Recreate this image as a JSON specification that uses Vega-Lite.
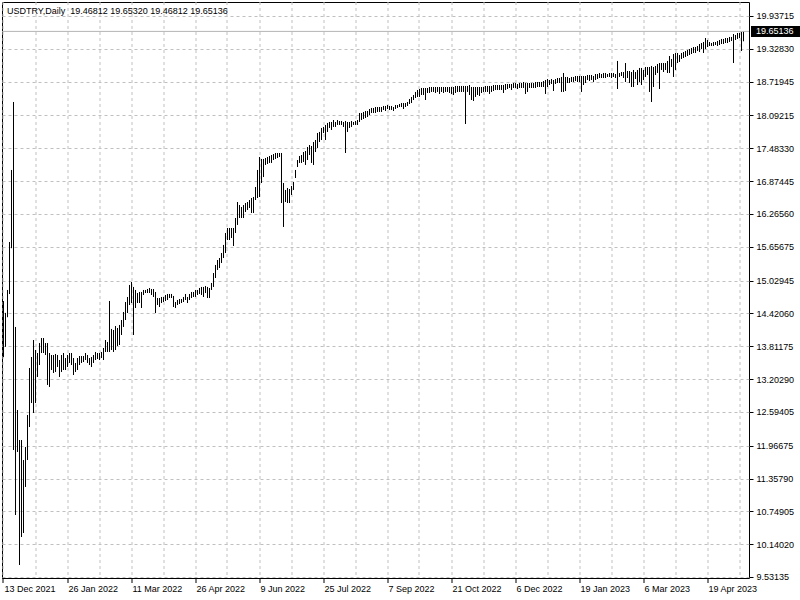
{
"$schema": "https://vega.github.io/schema/vega-lite/v6.json",
"width": 747, "height": 576,
"autosize": {"type": "none"},
"padding": {"left": 2, "top": 2, "right": 51, "bottom": 22},
"background": "white",
"config": {"view": {"stroke": "black", "strokeWidth": 1}, "font": "Liberation Sans", "axis": {"labelOverlap": false, "labelFlush": false}},
"layer": [
{"data": {"values": [
{"i":0,"h":14.65,"l":13.61},{"i":1,"h":14.43,"l":13.80},{"i":2,"h":14.855,"l":14.35},{"i":3,"h":15.745,"l":14.78},{"i":4,"h":17.081,"l":15.63},{"i":5,"h":18.342,"l":11.887},{"i":6,"h":14.169,"l":10.681},{"i":7,"h":12.629,"l":11.85},{"i":8,"h":12.072,"l":9.754},{"i":9,"h":12.072,"l":10.273},
{"i":10,"h":11.701,"l":10.347},{"i":11,"h":11.943,"l":11.201},{"i":12,"h":12.536,"l":11.701},{"i":13,"h":13.408,"l":12.313},{"i":14,"h":13.612,"l":12.758},{"i":15,"h":13.927,"l":12.573},{"i":16,"h":13.742,"l":12.758},{"i":17,"h":13.686,"l":13.241},{"i":18,"h":13.871,"l":13.463},{"i":19,"h":13.964,"l":13.686},
{"i":20,"h":13.964,"l":13.686},{"i":21,"h":13.871,"l":13.649},{"i":22,"h":13.871,"l":13.093},{"i":23,"h":13.686,"l":13.056},{"i":24,"h":13.649,"l":13.371},{"i":25,"h":13.649,"l":13.315},{"i":26,"h":13.668,"l":13.334},{"i":27,"h":13.649,"l":13.427},{"i":28,"h":13.556,"l":13.241},{"i":29,"h":13.649,"l":13.334},
{"i":30,"h":13.686,"l":13.371},{"i":31,"h":13.593,"l":13.371},{"i":32,"h":13.649,"l":13.427},{"i":33,"h":13.686,"l":13.501},{"i":34,"h":13.686,"l":13.463},{"i":35,"h":13.593,"l":13.278},{"i":36,"h":13.501,"l":13.334},{"i":37,"h":13.593,"l":13.371},{"i":38,"h":13.63,"l":13.463},{"i":39,"h":13.63,"l":13.501},
{"i":40,"h":13.63,"l":13.519},{"i":41,"h":13.686,"l":13.556},{"i":42,"h":13.649,"l":13.501},{"i":43,"h":13.593,"l":13.463},{"i":44,"h":13.612,"l":13.427},{"i":45,"h":13.649,"l":13.501},{"i":46,"h":13.705,"l":13.556},{"i":47,"h":13.686,"l":13.575},{"i":48,"h":13.686,"l":13.556},{"i":49,"h":13.705,"l":13.593},
{"i":50,"h":13.779,"l":13.556},{"i":51,"h":13.927,"l":13.705},{"i":52,"h":13.89,"l":13.705},{"i":53,"h":14.651,"l":13.705},{"i":54,"h":14.132,"l":13.742},{"i":55,"h":14.113,"l":13.705},{"i":56,"h":14.187,"l":13.742},{"i":57,"h":14.15,"l":13.816},{"i":58,"h":14.206,"l":13.834},{"i":59,"h":14.298,"l":14.02},
{"i":60,"h":14.447,"l":14.169},{"i":61,"h":14.632,"l":14.298},{"i":62,"h":14.725,"l":14.428},{"i":63,"h":14.948,"l":14.576},{"i":64,"h":15.003,"l":14.613},{"i":65,"h":14.911,"l":14.02},{"i":66,"h":14.855,"l":14.521},{"i":67,"h":14.799,"l":14.613},{"i":68,"h":14.818,"l":14.613},{"i":69,"h":14.818,"l":14.521},
{"i":70,"h":14.855,"l":14.762},{"i":71,"h":14.855,"l":14.799},{"i":72,"h":14.873,"l":14.799},{"i":73,"h":14.892,"l":14.799},{"i":74,"h":14.873,"l":14.762},{"i":75,"h":14.873,"l":14.725},{"i":76,"h":14.818,"l":14.428},{"i":77,"h":14.706,"l":14.576},{"i":78,"h":14.706,"l":14.539},{"i":79,"h":14.725,"l":14.613},
{"i":80,"h":14.725,"l":14.632},{"i":81,"h":14.762,"l":14.651},{"i":82,"h":14.781,"l":14.669},{"i":83,"h":14.781,"l":14.706},{"i":84,"h":14.781,"l":14.706},{"i":85,"h":14.744,"l":14.539},{"i":86,"h":14.632,"l":14.521},{"i":87,"h":14.669,"l":14.576},{"i":88,"h":14.688,"l":14.595},{"i":89,"h":14.688,"l":14.613},
{"i":90,"h":14.725,"l":14.632},{"i":91,"h":14.781,"l":14.669},{"i":92,"h":14.725,"l":14.613},{"i":93,"h":14.781,"l":14.669},{"i":94,"h":14.818,"l":14.706},{"i":95,"h":14.818,"l":14.725},{"i":96,"h":14.855,"l":14.725},{"i":97,"h":14.855,"l":14.762},{"i":98,"h":14.892,"l":14.781},{"i":99,"h":14.911,"l":14.762},
{"i":100,"h":14.911,"l":14.725},{"i":101,"h":14.929,"l":14.799},{"i":102,"h":14.911,"l":14.706},{"i":103,"h":14.892,"l":14.706},{"i":104,"h":14.985,"l":14.855},{"i":105,"h":15.17,"l":14.911},{"i":106,"h":15.319,"l":15.077},{"i":107,"h":15.411,"l":15.226},{"i":108,"h":15.448,"l":15.263},{"i":109,"h":15.541,"l":15.356},
{"i":110,"h":15.69,"l":15.448},{"i":111,"h":15.912,"l":15.541},{"i":112,"h":16.005,"l":15.782},{"i":113,"h":16.005,"l":15.782},{"i":114,"h":16.005,"l":15.819},{"i":115,"h":16.005,"l":15.671},{"i":116,"h":16.19,"l":15.912},{"i":117,"h":16.487,"l":16.061},{"i":118,"h":16.431,"l":16.19},{"i":119,"h":16.394,"l":16.19},
{"i":120,"h":16.431,"l":16.19},{"i":121,"h":16.468,"l":16.302},{"i":122,"h":16.487,"l":16.339},{"i":123,"h":16.524,"l":16.376},{"i":124,"h":16.561,"l":16.283},{"i":125,"h":16.58,"l":16.283},{"i":126,"h":16.765,"l":16.524},{"i":127,"h":17.081,"l":16.561},{"i":128,"h":17.322,"l":16.58},{"i":129,"h":17.285,"l":16.839},
{"i":130,"h":17.285,"l":16.95},{"i":131,"h":17.303,"l":17.174},{"i":132,"h":17.322,"l":17.192},{"i":133,"h":17.34,"l":17.211},{"i":134,"h":17.359,"l":17.211},{"i":135,"h":17.377,"l":17.266},{"i":136,"h":17.396,"l":17.285},{"i":137,"h":17.396,"l":17.303},{"i":138,"h":17.396,"l":17.322},{"i":139,"h":17.396,"l":16.468},
{"i":140,"h":16.839,"l":16.024},{"i":141,"h":16.71,"l":16.487},{"i":142,"h":16.747,"l":16.468},{"i":143,"h":16.728,"l":16.468},{"i":144,"h":16.784,"l":16.617},{"i":145,"h":16.858,"l":16.71},{"i":146,"h":17.081,"l":16.932},{"i":147,"h":17.266,"l":17.136},{"i":148,"h":17.34,"l":17.211},{"i":149,"h":17.359,"l":17.211},
{"i":150,"h":17.414,"l":17.229},{"i":151,"h":17.433,"l":17.174},{"i":152,"h":17.507,"l":17.266},{"i":153,"h":17.544,"l":17.359},{"i":154,"h":17.526,"l":17.211},{"i":155,"h":17.6,"l":17.174},{"i":156,"h":17.637,"l":17.414},{"i":157,"h":17.767,"l":17.489},{"i":158,"h":17.786,"l":17.6},{"i":159,"h":17.86,"l":17.637},
{"i":160,"h":17.879,"l":17.767},{"i":161,"h":17.916,"l":17.637},{"i":162,"h":17.953,"l":17.786},{"i":163,"h":17.971,"l":17.86},{"i":164,"h":17.971,"l":17.823},{"i":165,"h":18.008,"l":17.879},{"i":166,"h":17.971,"l":17.879},{"i":167,"h":18.008,"l":17.916},{"i":168,"h":17.99,"l":17.916},{"i":169,"h":17.99,"l":17.916},
{"i":170,"h":17.971,"l":17.879},{"i":171,"h":17.99,"l":17.396},{"i":172,"h":17.971,"l":17.786},{"i":173,"h":17.971,"l":17.86},{"i":174,"h":17.99,"l":17.879},{"i":175,"h":17.971,"l":17.916},{"i":176,"h":17.99,"l":17.916},{"i":177,"h":18.008,"l":17.916},{"i":178,"h":18.138,"l":17.971},{"i":179,"h":18.138,"l":18.008},
{"i":180,"h":18.157,"l":18.027},{"i":181,"h":18.175,"l":18.045},{"i":182,"h":18.175,"l":18.064},{"i":183,"h":18.212,"l":18.101},{"i":184,"h":18.231,"l":18.138},{"i":185,"h":18.231,"l":18.138},{"i":186,"h":18.249,"l":18.138},{"i":187,"h":18.249,"l":18.157},{"i":188,"h":18.249,"l":18.157},{"i":189,"h":18.249,"l":18.157},
{"i":190,"h":18.268,"l":18.194},{"i":191,"h":18.268,"l":18.175},{"i":192,"h":18.286,"l":18.212},{"i":193,"h":18.268,"l":18.194},{"i":194,"h":18.268,"l":18.194},{"i":195,"h":18.249,"l":18.175},{"i":196,"h":18.286,"l":18.212},{"i":197,"h":18.286,"l":18.231},{"i":198,"h":18.305,"l":18.249},{"i":199,"h":18.323,"l":18.249},
{"i":200,"h":18.323,"l":18.212},{"i":201,"h":18.323,"l":18.249},{"i":202,"h":18.342,"l":18.268},{"i":203,"h":18.398,"l":18.305},{"i":204,"h":18.435,"l":18.323},{"i":205,"h":18.472,"l":18.379},{"i":206,"h":18.528,"l":18.416},{"i":207,"h":18.565,"l":18.435},{"i":208,"h":18.583,"l":18.435},{"i":209,"h":18.602,"l":18.472},
{"i":210,"h":18.602,"l":18.472},{"i":211,"h":18.602,"l":18.379},{"i":212,"h":18.602,"l":18.509},{"i":213,"h":18.62,"l":18.509},{"i":214,"h":18.62,"l":18.528},{"i":215,"h":18.62,"l":18.528},{"i":216,"h":18.62,"l":18.509},{"i":217,"h":18.62,"l":18.528},{"i":218,"h":18.62,"l":18.491},{"i":219,"h":18.62,"l":18.528},
{"i":220,"h":18.62,"l":18.509},{"i":221,"h":18.62,"l":18.528},{"i":222,"h":18.62,"l":18.528},{"i":223,"h":18.62,"l":18.509},{"i":224,"h":18.62,"l":18.491},{"i":225,"h":18.62,"l":18.472},{"i":226,"h":18.639,"l":18.509},{"i":227,"h":18.639,"l":18.528},{"i":228,"h":18.639,"l":18.528},{"i":229,"h":18.639,"l":18.528},
{"i":230,"h":18.639,"l":18.528},{"i":231,"h":18.639,"l":17.934},{"i":232,"h":18.639,"l":18.528},{"i":233,"h":18.657,"l":18.472},{"i":234,"h":18.62,"l":18.379},{"i":235,"h":18.62,"l":18.361},{"i":236,"h":18.62,"l":18.435},{"i":237,"h":18.62,"l":18.472},{"i":238,"h":18.62,"l":18.454},{"i":239,"h":18.62,"l":18.509},
{"i":240,"h":18.62,"l":18.528},{"i":241,"h":18.639,"l":18.528},{"i":242,"h":18.639,"l":18.528},{"i":243,"h":18.639,"l":18.491},{"i":244,"h":18.639,"l":18.528},{"i":245,"h":18.657,"l":18.546},{"i":246,"h":18.657,"l":18.565},{"i":247,"h":18.657,"l":18.565},{"i":248,"h":18.657,"l":18.565},{"i":249,"h":18.657,"l":18.565},
{"i":250,"h":18.657,"l":18.509},{"i":251,"h":18.676,"l":18.565},{"i":252,"h":18.676,"l":18.583},{"i":253,"h":18.676,"l":18.602},{"i":254,"h":18.676,"l":18.565},{"i":255,"h":18.694,"l":18.602},{"i":256,"h":18.694,"l":18.602},{"i":257,"h":18.676,"l":18.583},{"i":258,"h":18.694,"l":18.602},{"i":259,"h":18.694,"l":18.602},
{"i":260,"h":18.713,"l":18.602},{"i":261,"h":18.694,"l":18.491},{"i":262,"h":18.694,"l":18.528},{"i":263,"h":18.694,"l":18.602},{"i":264,"h":18.694,"l":18.602},{"i":265,"h":18.694,"l":18.602},{"i":266,"h":18.713,"l":18.602},{"i":267,"h":18.713,"l":18.62},{"i":268,"h":18.713,"l":18.62},{"i":269,"h":18.713,"l":18.62},
{"i":270,"h":18.731,"l":18.62},{"i":271,"h":18.75,"l":18.491},{"i":272,"h":18.768,"l":18.62},{"i":273,"h":18.75,"l":18.657},{"i":274,"h":18.768,"l":18.676},{"i":275,"h":18.75,"l":18.546},{"i":276,"h":18.768,"l":18.676},{"i":277,"h":18.787,"l":18.694},{"i":278,"h":18.787,"l":18.694},{"i":279,"h":18.806,"l":18.528},
{"i":280,"h":18.88,"l":18.528},{"i":281,"h":18.806,"l":18.546},{"i":282,"h":18.806,"l":18.694},{"i":283,"h":18.787,"l":18.694},{"i":284,"h":18.806,"l":18.713},{"i":285,"h":18.806,"l":18.713},{"i":286,"h":18.824,"l":18.731},{"i":287,"h":18.824,"l":18.713},{"i":288,"h":18.824,"l":18.713},{"i":289,"h":18.824,"l":18.528},
{"i":290,"h":18.824,"l":18.657},{"i":291,"h":18.824,"l":18.694},{"i":292,"h":18.843,"l":18.75},{"i":293,"h":18.843,"l":18.731},{"i":294,"h":18.843,"l":18.75},{"i":295,"h":18.824,"l":18.713},{"i":296,"h":18.861,"l":18.75},{"i":297,"h":18.861,"l":18.768},{"i":298,"h":18.88,"l":18.787},{"i":299,"h":18.861,"l":18.787},
{"i":300,"h":18.88,"l":18.787},{"i":301,"h":18.88,"l":18.787},{"i":302,"h":18.861,"l":18.806},{"i":303,"h":18.88,"l":18.806},{"i":304,"h":18.88,"l":18.787},{"i":305,"h":18.88,"l":18.806},{"i":306,"h":18.861,"l":18.787},{"i":307,"h":19.103,"l":18.583},{"i":308,"h":18.88,"l":18.806},{"i":309,"h":18.898,"l":18.824},
{"i":310,"h":18.898,"l":18.787},{"i":311,"h":19.065,"l":18.713},{"i":312,"h":18.917,"l":18.787},{"i":313,"h":18.917,"l":18.694},{"i":314,"h":18.898,"l":18.62},{"i":315,"h":18.936,"l":18.62},{"i":316,"h":18.898,"l":18.768},{"i":317,"h":18.936,"l":18.657},{"i":318,"h":18.973,"l":18.713},{"i":319,"h":18.973,"l":18.657},
{"i":320,"h":18.936,"l":18.75},{"i":321,"h":18.991,"l":18.806},{"i":322,"h":18.991,"l":18.843},{"i":323,"h":18.991,"l":18.528},{"i":324,"h":19.01,"l":18.342},{"i":325,"h":18.991,"l":18.62},{"i":326,"h":19.01,"l":18.843},{"i":327,"h":19.047,"l":18.88},{"i":328,"h":19.065,"l":18.583},{"i":329,"h":19.065,"l":18.936},
{"i":330,"h":19.065,"l":18.898},{"i":331,"h":19.065,"l":18.936},{"i":332,"h":19.103,"l":18.88},{"i":333,"h":19.195,"l":18.88},{"i":334,"h":19.14,"l":18.991},{"i":335,"h":19.232,"l":18.806},{"i":336,"h":19.251,"l":18.936},{"i":337,"h":19.251,"l":19.065},{"i":338,"h":19.214,"l":19.084},{"i":339,"h":19.251,"l":19.14},
{"i":340,"h":19.269,"l":19.158},{"i":341,"h":19.288,"l":19.177},{"i":342,"h":19.307,"l":19.195},{"i":343,"h":19.325,"l":19.214},{"i":344,"h":19.344,"l":19.232},{"i":345,"h":19.362,"l":19.251},{"i":346,"h":19.362,"l":19.251},{"i":347,"h":19.381,"l":19.288},{"i":348,"h":19.418,"l":19.269},{"i":349,"h":19.436,"l":19.325},
{"i":350,"h":19.455,"l":19.251},{"i":351,"h":19.529,"l":19.325},{"i":352,"h":19.492,"l":19.362},{"i":353,"h":19.455,"l":19.381},{"i":354,"h":19.436,"l":19.381},{"i":355,"h":19.455,"l":19.381},{"i":356,"h":19.455,"l":19.399},{"i":357,"h":19.474,"l":19.381},{"i":358,"h":19.492,"l":19.399},{"i":359,"h":19.511,"l":19.418},
{"i":360,"h":19.511,"l":19.418},{"i":361,"h":19.529,"l":19.436},{"i":362,"h":19.529,"l":19.436},{"i":363,"h":19.548,"l":19.455},{"i":364,"h":19.548,"l":19.474},{"i":365,"h":19.603,"l":19.065},{"i":366,"h":19.585,"l":19.492},{"i":367,"h":19.622,"l":19.511},{"i":368,"h":19.622,"l":19.529},{"i":369,"h":19.64,"l":19.288},
{"i":370,"h":19.6532,"l":19.46812}
 ]},
 "mark": {"type": "rule", "color": "black", "strokeWidth": 1},
 "encoding": {
  "x": {"field": "i", "type": "quantitative", "scale": {"domain": [-0.75, 372.75], "nice": false, "zero": false},
   "axis": {"orient": "bottom", "tickCount": 100, "values": [0,16,32,48,64,80,96,112,128,144,160,176,192,208,224,240,256,272,288,304,320,336,352,368],
    "labelExpr": "datum.value % 32 == 0 ? ['13 Dec 2021','26 Jan 2022','11 Mar 2022','26 Apr 2022','9 Jun 2022','25 Jul 2022','7 Sep 2022','21 Oct 2022','6 Dec 2022','19 Jan 2023','6 Mar 2023','19 Apr 2023'][datum.value / 32] : ''",
    "labelAlign": "left", "labelOffset": 1, "labelFlush": false, "labelOverlap": false, "labelFont": "Liberation Sans", "labelFontSize": 9, "labelColor": "black", "labelBaseline": "top", "labelPadding": 2,
    "tickSize": 5, "tickColor": "black", "tickOpacity": {"condition": {"test": "datum.value % 32 == 0", "value": 1}, "value": 0},
    "domain": false, "grid": true, "gridColor": "#c0c0c0", "gridDash": [3, 3], "title": null, "translate": 0}},
  "y": {"field": "h", "type": "quantitative", "scale": {"domain": [9.5126, 20.1968], "nice": false, "zero": false},
   "axis": {"orient": "right", "tickCount": 100, "values": [19.93715,19.3283,18.71945,18.09215,17.4833,16.87445,16.2656,15.65675,15.02945,14.4206,13.81175,13.2029,12.59405,11.96675,11.3579,10.74905,10.1402,9.53135],
    "format": ".5f", "labelFont": "Liberation Sans", "labelFontSize": 9, "labelColor": "black", "labelBaseline": "middle", "labelPadding": 3, "labelOverlap": false, "labelFlush": false,
    "tickSize": 4, "tickColor": "black", "domain": false, "grid": true, "gridColor": "#c0c0c0", "gridDash": [3, 3], "title": null}},
  "y2": {"field": "l"}
 }},
{"data": {"values": [{"h": 19.65136}]},
 "mark": {"type": "rule", "color": "#b4b4b4", "strokeWidth": 1},
 "encoding": {"y": {"field": "h", "type": "quantitative", "scale": {"domain": [9.5126, 20.1968], "nice": false, "zero": false}}}},
{"data": {"values": [{"h": 19.65136}]},
 "mark": {"type": "rect", "color": "black", "height": 11},
 "encoding": {
  "x": {"datum": 373.75, "type": "quantitative", "scale": {"domain": [-0.75, 372.75], "nice": false, "zero": false}},
  "x2": {"datum": 398.25},
  "y": {"field": "h", "type": "quantitative", "scale": {"domain": [9.5126, 20.1968], "nice": false, "zero": false}}}},
{"data": {"values": [{"h": 19.65136}]},
 "mark": {"type": "text", "color": "white", "align": "left", "baseline": "middle", "font": "Liberation Sans", "fontSize": 9, "dx": 2},
 "encoding": {
  "x": {"datum": 375.25, "type": "quantitative", "scale": {"domain": [-0.75, 372.75], "nice": false, "zero": false}},
  "y": {"field": "h", "type": "quantitative", "scale": {"domain": [9.5126, 20.1968], "nice": false, "zero": false}},
  "text": {"field": "h", "type": "quantitative", "format": ".5f"}}},
{"data": {"values": [{"t": "USDTRY,Daily\u00a0 19.46812 19.65320 19.46812 19.65136"}]},
 "mark": {"type": "text", "color": "black", "align": "left", "baseline": "alphabetic", "font": "Liberation Sans", "fontSize": 9},
 "encoding": {
  "x": {"datum": 1.75, "type": "quantitative", "scale": {"domain": [-0.75, 372.75], "nice": false, "zero": false}},
  "y": {"datum": 19.974, "type": "quantitative", "scale": {"domain": [9.5126, 20.1968], "nice": false, "zero": false}},
  "text": {"field": "t", "type": "nominal"}}}
]
}
